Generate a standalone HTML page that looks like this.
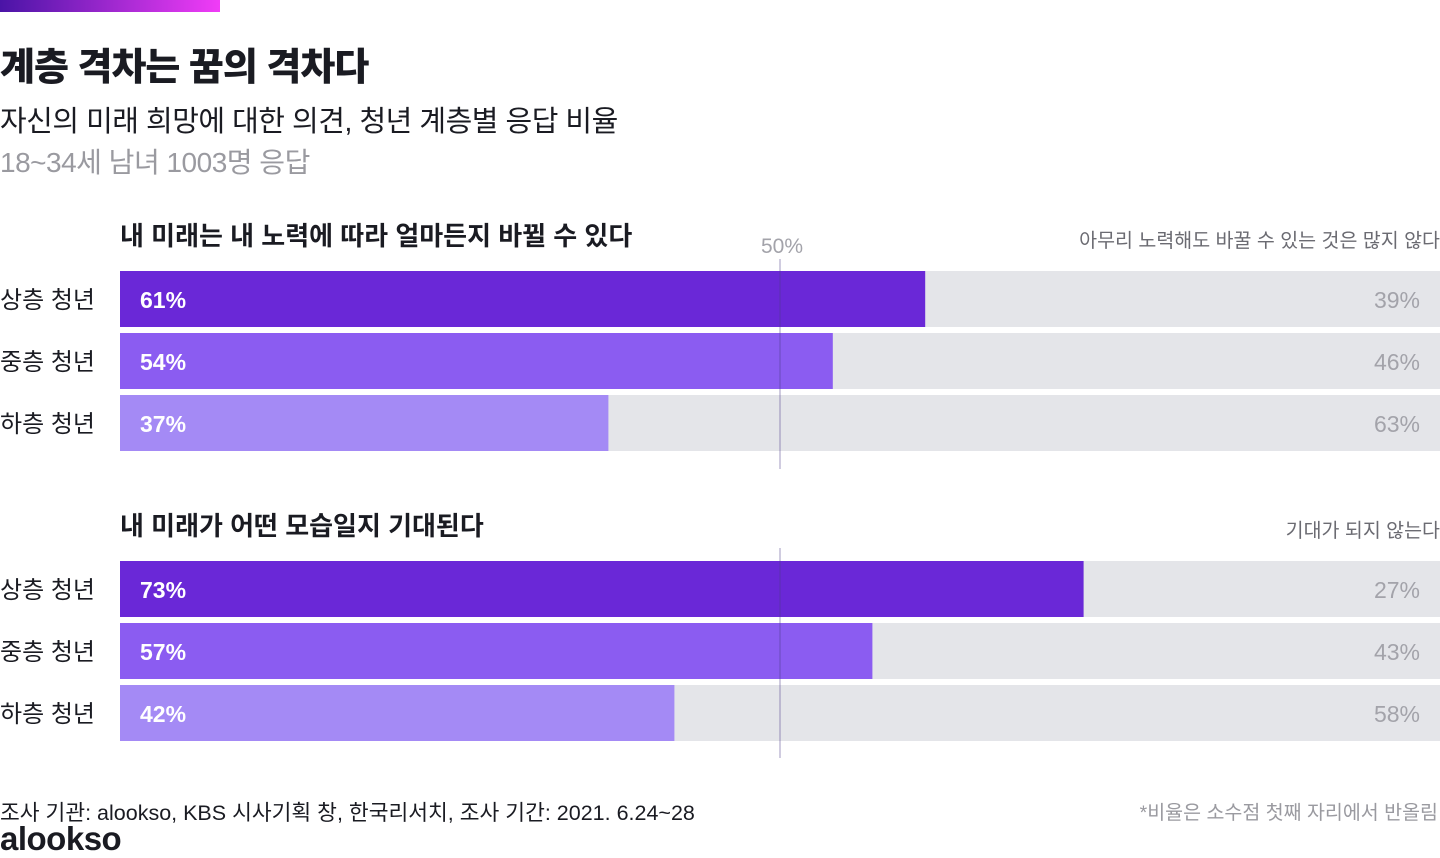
<!DOCTYPE html>
<html><head><meta charset="utf-8"><style>
body{margin:0;width:1440px;height:854px;background:#fff;position:relative;overflow:hidden;font-family:"Liberation Sans","Noto Sans CJK KR",sans-serif;color:#1a1b22}
.a{position:absolute;white-space:nowrap}
</style></head><body>
<div class="a" style="left:0;top:0;width:220px;height:12px;background:linear-gradient(90deg,#4a14a6,#f13cf7)"></div>
<div class="a" style="left:0;top:36px;font-size:38px;font-weight:900;letter-spacing:-1px">계층 격차는 꿈의 격차다</div>
<div class="a" style="left:0;top:98px;font-size:29px;letter-spacing:-0.5px">자신의 미래 희망에 대한 의견, 청년 계층별 응답 비율</div>
<div class="a" style="left:0;top:141px;font-size:28px;color:#9a9aa0;letter-spacing:-0.5px">18~34세 남녀 1003명 응답</div>
<svg id="chart" class="a" style="left:0;top:0" width="1440" height="854"></svg>
<div class="a" style="left:0;top:796px;font-size:21.5px">조사 기관: alookso, KBS 시사기획 창, 한국리서치, 조사 기간: 2021. 6.24~28</div>
<div class="a" style="right:2px;top:796px;font-size:19.5px;color:#9a9aa0">*비율은 소수점 첫째 자리에서 반올림</div>
<div class="a" style="left:0;top:820px;font-size:33px;font-weight:900;letter-spacing:-0.5px">alookso</div>
<script>
const categories=["상층 청년","중층 청년","하층 청년"];
const groupTitles=["내 미래는 내 노력에 따라 얼마든지 바뀔 수 있다","내 미래가 어떤 모습일지 기대된다"];
const groupRightTitles=["아무리 노력해도 바꿀 수 있는 것은 많지 않다","기대가 되지 않는다"];
const values1=[61,54,37];
const values2=[73,57,42];
const series=[values1,values2];
const ns="http://www.w3.org/2000/svg";
const svg=document.getElementById('chart');
const x0=120,x1=1440;
const xs=v=>x0+(x1-x0)*v/100;
const colors=["#6a28d7","#8b5cf1","#a48af5"];
const groupTops=[271,561];
function mk(t,a,txt){const e=document.createElementNS(ns,t);for(const k in a)e.setAttribute(k,a[k]);if(txt!==undefined)e.textContent=txt;svg.appendChild(e);return e;}
series.forEach((vals,g)=>{
  const top=groupTops[g];
  let t=mk('text',{x:120,y:top-26,'font-size':26,'font-weight':700,fill:'#1a1b22'},groupTitles[g]);
  
  
  t=mk('text',{x:1440,y:top-24,'font-size':19.5,fill:'#6b6b72','text-anchor':'end'},groupRightTitles[g]);
  
  
  vals.forEach((v,i)=>{
    const y=top+i*62;
    let r=mk('rect',{x:x0,y:y,width:x1-x0,height:56,fill:'#e4e5e9'});
    
    
    r=mk('rect',{x:x0,y:y,width:xs(v)-x0,height:56,fill:colors[i]});
    
    
    let l=mk('text',{x:0,y:y+37,'font-size':24,fill:'#1a1b22'},categories[i]);
    
    
    l=mk('text',{x:140,y:y+37,'font-size':23,'font-weight':700,fill:'#fff'},v+'%');
    
    
    l=mk('text',{x:1420,y:y+37,'font-size':23,fill:'#a3a3aa','text-anchor':'end'},(100-v)+'%');
    
    
  });
  const ln=mk('line',{x1:xs(50),x2:xs(50),y1:g==0?259:548,y2:top+186+(g==0?12:11),stroke:'#4a3a8a','stroke-opacity':0.35,'stroke-width':1.5});
  
  
});
const f=mk('text',{x:xs(50)+2,y:253,'font-size':21,fill:'#a3a3aa','text-anchor':'middle'},'50%');


</script>
</body></html>
